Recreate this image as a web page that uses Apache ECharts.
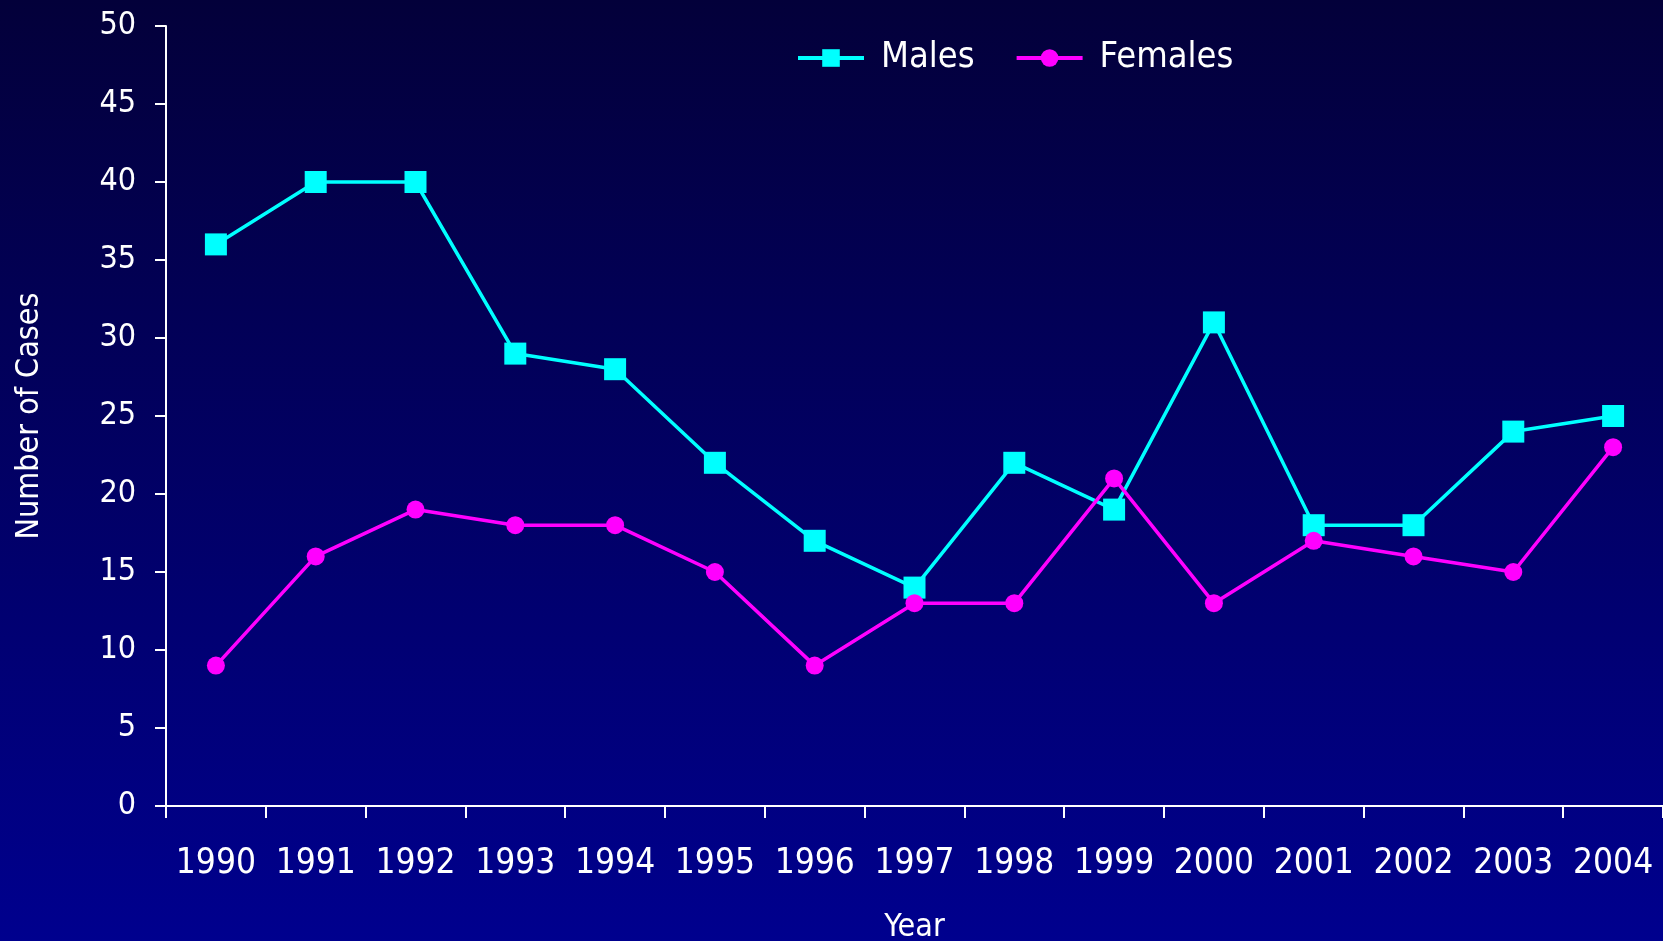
<!DOCTYPE html>
<html lang="en">
<head>
  <meta charset="UTF-8" />
  <script src="https://cdn.jsdelivr.net/npm/echarts@6/dist/echarts.min.js"></script>
  <title>Number of Cases by Year</title>
  <style>
    html, body { margin: 0; padding: 0; }
  </style>
</head>
<body>
  <div id="main" style="width: 1663px; height: 941px;"></div>
  <script type="text/javascript">
    var years = ["1990", "1991", "1992", "1993", "1994", "1995", "1996", "1997",
      "1998", "1999", "2000", "2001", "2002", "2003", "2004"];
    var males = [36, 40, 40, 29, 28, 22, 17, 14, 22, 19, 31, 18, 18, 24, 25];
    var females = [9, 16, 19, 18, 18, 15, 9, 13, 13, 21, 13, 17, 16, 15, 23];

    var font = "'DejaVu Sans Condensed', 'Liberation Sans', sans-serif";

    var myChart = echarts.init(document.getElementById("main"));
    myChart.setOption({
      animation: false,
      backgroundColor: {
        type: "linear", x: 0, y: 0, x2: 0, y2: 1,
        colorStops: [
          { offset: 0, color: "#03003a" },
          { offset: 1, color: "#00008e" }
        ]
      },
      textStyle: { fontFamily: font, color: "#ffffff" },
      legend: {
        top: 35,
        left: 791,
        itemWidth: 66,
        itemHeight: 22,
        itemGap: 40,
        lineStyle: { width: 4 },
        textStyle: { color: "#ffffff", fontSize: 36, fontFamily: font, padding: [0, 0, 0, 12] },
        data: ["Males", "Females"]
      },
      grid: { left: 166, right: 0, top: 26, bottom: 135, outerBoundsMode: "none" },
      xAxis: {
        type: "category",
        data: years,
        boundaryGap: true,
        name: "Year",
        nameLocation: "middle",
        nameGap: 106,
        nameTextStyle: { color: "#ffffff", fontSize: 32, fontFamily: font },
        axisLine: { lineStyle: { color: "#ffffff", width: 2 } },
        axisTick: { show: true, length: 12, lineStyle: { color: "#ffffff", width: 2 } },
        axisLabel: { color: "#ffffff", fontSize: 35, margin: 40, interval: 0, fontFamily: font },
        splitLine: { show: false }
      },
      yAxis: {
        type: "value",
        min: 0,
        max: 50,
        interval: 5,
        name: "Number of Cases",
        nameLocation: "middle",
        nameGap: 120,
        nameRotate: 90,
        nameTextStyle: { color: "#ffffff", fontSize: 32, fontFamily: font },
        axisLine: { show: true, lineStyle: { color: "#ffffff", width: 2 } },
        axisTick: { show: true, length: 11, lineStyle: { color: "#ffffff", width: 2 } },
        axisLabel: { color: "#ffffff", fontSize: 32, margin: 30, fontFamily: font },
        splitLine: { show: false }
      },
      series: [
        {
          name: "Males",
          type: "line",
          data: males,
          symbol: "rect",
          symbolSize: 22,
          lineStyle: { color: "#00ffff", width: 3.5 },
          itemStyle: { color: "#00ffff" }
        },
        {
          name: "Females",
          type: "line",
          data: females,
          symbol: "circle",
          symbolSize: 18,
          lineStyle: { color: "#ff00ff", width: 3.5 },
          itemStyle: { color: "#ff00ff" }
        }
      ]
    });
  </script>
</body>
</html>
